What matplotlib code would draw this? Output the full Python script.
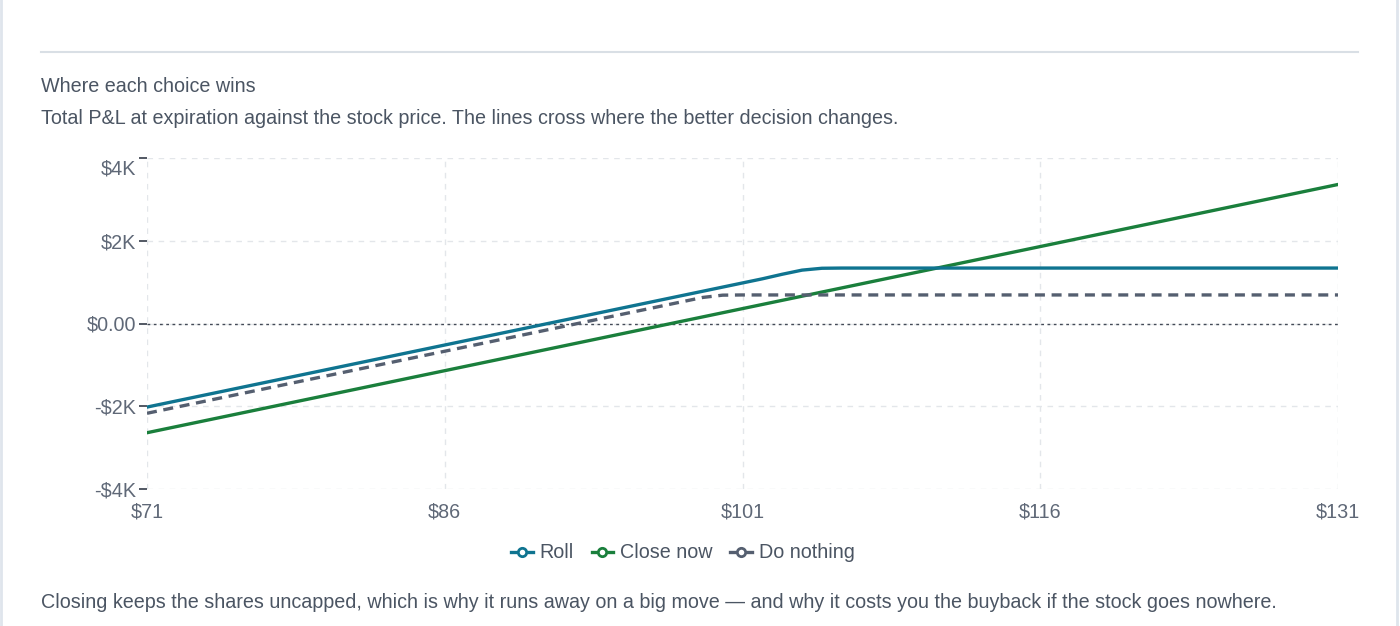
import matplotlib
matplotlib.use('Agg')
import matplotlib.pyplot as plt
from matplotlib.lines import Line2D
from matplotlib.transforms import ScaledTranslation

plt.rcParams['font.family'] = ['Liberation Sans', 'DejaVu Sans']

# data
roll_x = [71, 102, 103, 104, 105, 106, 131]
roll_y = [-2020, 1080, 1190, 1290, 1335, 1340, 1340]
close_x = [71, 131]
close_y = [-2640, 3360]
nothing_x = [71, 99, 100, 101, 131]
nothing_y = [-2170, 630, 685, 690, 690]

x_ticks = [71, 86, 101, 116, 131]
x_labels = ['$71', '$86', '$101', '$116', '$131']
y_ticks = [-4000, -2000, 0, 2000, 4000]
y_labels = ['-$4K', '-$2K', '$0.00', '$2K', '$4K']

TEXT = '#4b5563'
TICK = '#5f6877'
C_ROLL = '#0f7490'
C_CLOSE = '#1a7f3c'
C_NOTHING = '#555f70'

fig = plt.figure(figsize=(14, 6.26), dpi=100)
fig.patch.set_facecolor('white')

# card borders and divider
fig.add_artist(Line2D([0.001, 0.001], [0, 1], color='#dfe5ec', lw=2, transform=fig.transFigure))
fig.add_artist(Line2D([0.998, 0.998], [0, 1], color='#dfe5ec', lw=2, transform=fig.transFigure))
fig.add_artist(Line2D([41 / 1400, 1358 / 1400], [1 - 52 / 626] * 2, color='#d9dfe5', lw=1.5, transform=fig.transFigure))

fs = 14.2
fig.text(41 / 1400, 1 - 86 / 626, 'Where each choice wins', fontsize=fs, color=TEXT, va='center')
fig.text(41 / 1400, 1 - 119 / 626,
         'Total P&L at expiration against the stock price. The lines cross where the better decision changes.',
         fontsize=fs, color=TEXT, va='center')
fig.text(41 / 1400, 1 - 602 / 626,
         'Closing keeps the shares uncapped, which is why it runs away on a big move \u2014 and why it costs you the buyback if the stock goes nowhere.',
         fontsize=fs, color=TEXT, va='center')

ax = fig.add_axes([147 / 1400, 1 - 489 / 626, (1338 - 147) / 1400, (489 - 158) / 626])
ax.set_xlim(71, 131)
ax.set_ylim(-4000, 4000)

for s in ax.spines.values():
    s.set_visible(False)

ax.grid(True, color='#e3e6ea', linestyle=(0, (4, 4)), linewidth=1)
ax.set_axisbelow(True)
ax.axhline(0, color='#444b57', linestyle=(0, (2, 2.5)), linewidth=1, zorder=1)

ax.plot(close_x, close_y, color=C_CLOSE, lw=2.4, zorder=3)
ax.plot(roll_x, roll_y, color=C_ROLL, lw=2.4, zorder=4)
ax.plot(nothing_x, nothing_y, color=C_NOTHING, lw=2.4, linestyle=(0, (3, 2)), zorder=5)

ax.set_xticks(x_ticks)
ax.set_xticklabels(x_labels)
ax.set_yticks(y_ticks)
ax.set_yticklabels(y_labels)
ax.tick_params(axis='x', length=0, pad=10, labelsize=14.2, labelcolor=TICK)
ax.tick_params(axis='y', length=6, width=1.3, color='#444b57', pad=2, labelsize=14.2, labelcolor=TICK)

# top y label sits a little below its tick, as in the reference
top_lbl = ax.get_yticklabels()[-1]
top_lbl.set_transform(top_lbl.get_transform() + ScaledTranslation(0, -9 / 100, fig.dpi_scale_trans))

handles = [
    Line2D([], [], color=C_ROLL, lw=2.4, marker='o', markersize=6, markerfacecolor='white', markeredgewidth=2),
    Line2D([], [], color=C_CLOSE, lw=2.4, marker='o', markersize=6, markerfacecolor='white', markeredgewidth=2),
    Line2D([], [], color=C_NOTHING, lw=2.4, marker='o', markersize=6, markerfacecolor='white', markeredgewidth=2),
]
leg = fig.legend(handles, ['Roll', 'Close now', 'Do nothing'], loc='center',
                 bbox_to_anchor=(683 / 1400, 1 - 553 / 626), ncol=3, frameon=False,
                 fontsize=14.2, handlelength=1.1, handletextpad=0.35, columnspacing=0.9)
for t in leg.get_texts():
    t.set_color(TEXT)

fig.savefig('out.png', dpi=100, facecolor='white')
